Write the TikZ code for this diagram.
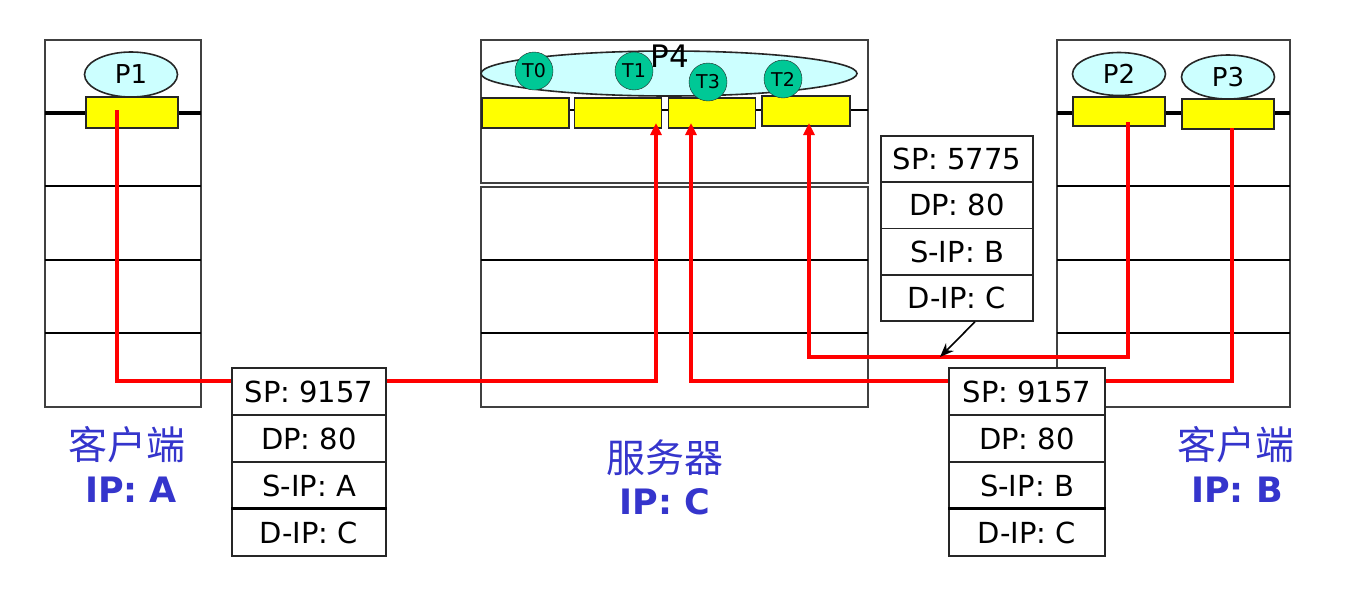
\documentclass[tikz,border=0pt]{standalone}
\usepackage{fontspec}
\setmainfont{DejaVu Sans}
\newfontfamily\cjk{Noto Sans CJK SC}
\usetikzlibrary{arrows.meta,positioning,shapes.geometric}
\definecolor{sockyellow}{HTML}{FFFF00}
\definecolor{procblue}{HTML}{CCFFFF}
\definecolor{thrgreen}{HTML}{00C896}
\definecolor{lblblue}{HTML}{3535CC}
\tikzset{
  host/.style={draw=black!75,line width=2pt},
  layer/.style={line width=2pt},
  sock/.style={draw=black!85,fill=sockyellow,line width=1.6pt,inner sep=0pt},
  proc/.style={ellipse,draw=black!85,fill=procblue,line width=1.6pt,inner sep=0pt,font=\fontsize{26}{26}\selectfont},
  thr/.style={circle,draw=black!85,fill=thrgreen,minimum size=38pt,inner sep=0pt,font=\fontsize{19}{19}\selectfont},
  field/.style={draw=black!85,fill=white,line width=1.6pt,minimum width=154pt,minimum height=47pt,inner sep=0pt,font=\fontsize{29}{29}\selectfont},
  conn/.style={red,line width=3.2pt},
  flow/.style={conn,-{Triangle[length=12pt,width=11pt]}},
  pointer/.style={black,line width=1.6pt,-{Stealth[length=14pt,width=11pt]}},
  hostname/.style={lblblue,font=\cjk\fontsize{39}{39}\selectfont},
  hostip/.style={lblblue,font=\bfseries\fontsize{35}{35}\selectfont},
}
\begin{document}
\begin{tikzpicture}[x=1pt,y=-1pt]
  \useasboundingbox (0,0) rectangle (1360,589);
  % ---------------- client A ----------------
  \draw[host] (45,40) rectangle (201,407);
  \foreach \y in {186,260,333} \draw[layer] (45,\y) -- (201,\y);
  \draw[line width=3.4pt] (45,113) -- (201,113);
  \node[sock,minimum width=92pt,minimum height=31pt] (sockA) at (132,112.5) {};
  \node[proc,minimum width=93pt,minimum height=45pt] (P1) at (131,74.5) {P1};
  % ---------------- server C ----------------
  \draw[host] (481,40) rectangle (868,183);
  \draw[host] (481,187) rectangle (868,407);
  \foreach \y in {260,333} \draw[layer] (481,\y) -- (868,\y);
  \draw[line width=1.4pt] (481,110) -- (868,110);
  \foreach \x/\n in {525.5/1,618/2,712/3}
    \node[sock,minimum width=87pt,minimum height=30pt] (sockC\n) at (\x,113) {};
  \node[sock,minimum width=88pt,minimum height=30pt] (sockC4) at (806,111) {};
  \node[proc,minimum width=376pt,minimum height=45pt] (P4) at (669,73.5) {};
  \foreach \x/\y/\t in {534/71/T0,634/71/T1,708/82/T3,783/79/T2}
    \node[thr] (\t) at (\x,\y) {\t};
  \node[font=\fontsize{31}{31}\selectfont] (P4lbl) at (670,56) {P4};
  % ---------------- client B ----------------
  \draw[host] (1057,40) rectangle (1290,407);
  \foreach \y in {186,260,333} \draw[layer] (1057,\y) -- (1290,\y);
  \draw[line width=3.4pt] (1057,113) -- (1290,113);
  \node[sock,minimum width=92pt,minimum height=29pt] (sockP2) at (1119,111.5) {};
  \node[sock,minimum width=92pt,minimum height=30pt] (sockP3) at (1228,114) {};
  \node[proc,minimum width=93pt,minimum height=43pt] (P2) at (1119,74) {P2};
  \node[proc,minimum width=93pt,minimum height=44pt] (P3) at (1228,77) {P3};
  % ---------------- segments ----------------
  \foreach \t [count=\i] in {SP: 9157,DP: 80,S-IP: A,D-IP: C}
    \node[field] (pkA\i) at (309,344.5+47*\i) {\t};
  \draw[line width=3pt] (pkA4.north west) -- (pkA4.north east);
  \foreach \t [count=\i] in {SP: 9157,DP: 80,S-IP: B,D-IP: C}
    \node[field,minimum width=156pt] (pkB\i) at (1027,344.5+47*\i) {\t};
  \draw[line width=3pt] (pkB4.north west) -- (pkB4.north east);
  \foreach \t [count=\i] in {SP: 5775,DP: 80,S-IP: B,D-IP: C}
    \node[field,minimum width=152pt,minimum height=46.25pt] (pkC\i) at (957,112.875+46.25*\i) {\t};
  % ---------------- flows ----------------
  \coordinate (outA) at (117,110);
  \coordinate (outP2) at (1128,122);
  \coordinate (outP3) at (1232,128);
  \coordinate (turnP2) at (1128,357);
  \coordinate (inT1) at (656,123);
  \coordinate (inT3) at (691,123);
  \coordinate (inT2) at (809,123);
  \coordinate (hit) at (940,357);
  \draw[conn] (outA) |- ([yshift=10.5pt]pkA1.west);
  \draw[flow] ([yshift=10.5pt]pkA1.east) -| (inT1);
  \draw[conn] (outP3) |- ([yshift=10.5pt]pkB1.east);
  \draw[flow] ([yshift=10.5pt]pkB1.west) -| (inT3);
  \draw[flow] (outP2) -- (turnP2) -| (inT2);
  \draw[pointer] ([xshift=18pt]pkC4.south) -- (hit);
  % ---------------- labels ----------------
  \node[hostname] (nameA) at (127,445) {客户端};
  \node[hostip] (ipA) at (131,490) {IP: A};
  \node[hostname] (nameC) at (665,458) {服务器};
  \node[hostip] (ipC) at (665,502) {IP: C};
  \node[hostname] (nameB) at (1236,445) {客户端};
  \node[hostip] (ipB) at (1237,490) {IP: B};
\end{tikzpicture}
\end{document}
